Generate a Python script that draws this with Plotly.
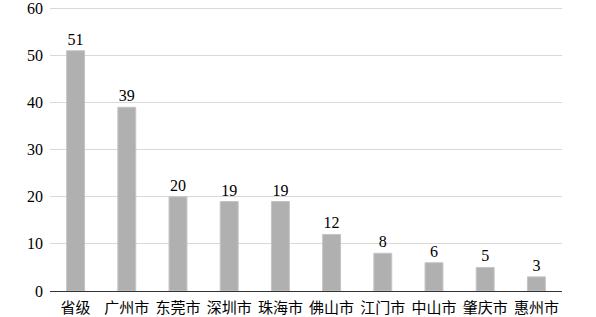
import plotly.graph_objects as go

categories = ["省级", "广州市", "东莞市", "深圳市", "珠海市", "佛山市", "江门市", "中山市", "肇庆市", "惠州市"]
values = [51, 39, 20, 19, 19, 12, 8, 6, 5, 3]
y_ticks = [0, 10, 20, 30, 40, 50, 60]

font_family = "Liberation Serif, Times New Roman, Noto Sans CJK SC, serif"

fig = go.Figure(go.Bar(
    x=categories,
    y=values,
    text=[str(v) for v in values],
    textposition="outside",
    textfont=dict(family=font_family, size=16, color="#000"),
    marker=dict(color="#b0b0b0", line=dict(color="#c4c4c4", width=1)),
    cliponaxis=False,
))

fig.update_layout(
    width=596, height=317,
    margin=dict(l=50, r=34, t=6, b=26, autoexpand=False),
    plot_bgcolor="white", paper_bgcolor="white",
    bargap=0.65,
    showlegend=False,
    font=dict(family=font_family, size=16, color="#000"),
)
fig.update_yaxes(
    range=[0, 60.5], tickvals=y_ticks, showgrid=True, gridcolor="#d9d9d9", gridwidth=1,
    zeroline=False, showline=False, ticks="", ticklabelstandoff=6,
    ticklabeloverflow="allow",
    tickfont=dict(family=font_family, size=16, color="#000"),
    automargin=False,
)
fig.update_xaxes(
    showline=True, linecolor="#333", linewidth=1, ticks="",
    ticklabelstandoff=3,
    tickfont=dict(family="Noto Sans CJK SC, serif", size=15, color="#000"),
    automargin=False,
)

fig.write_html("out.html")
